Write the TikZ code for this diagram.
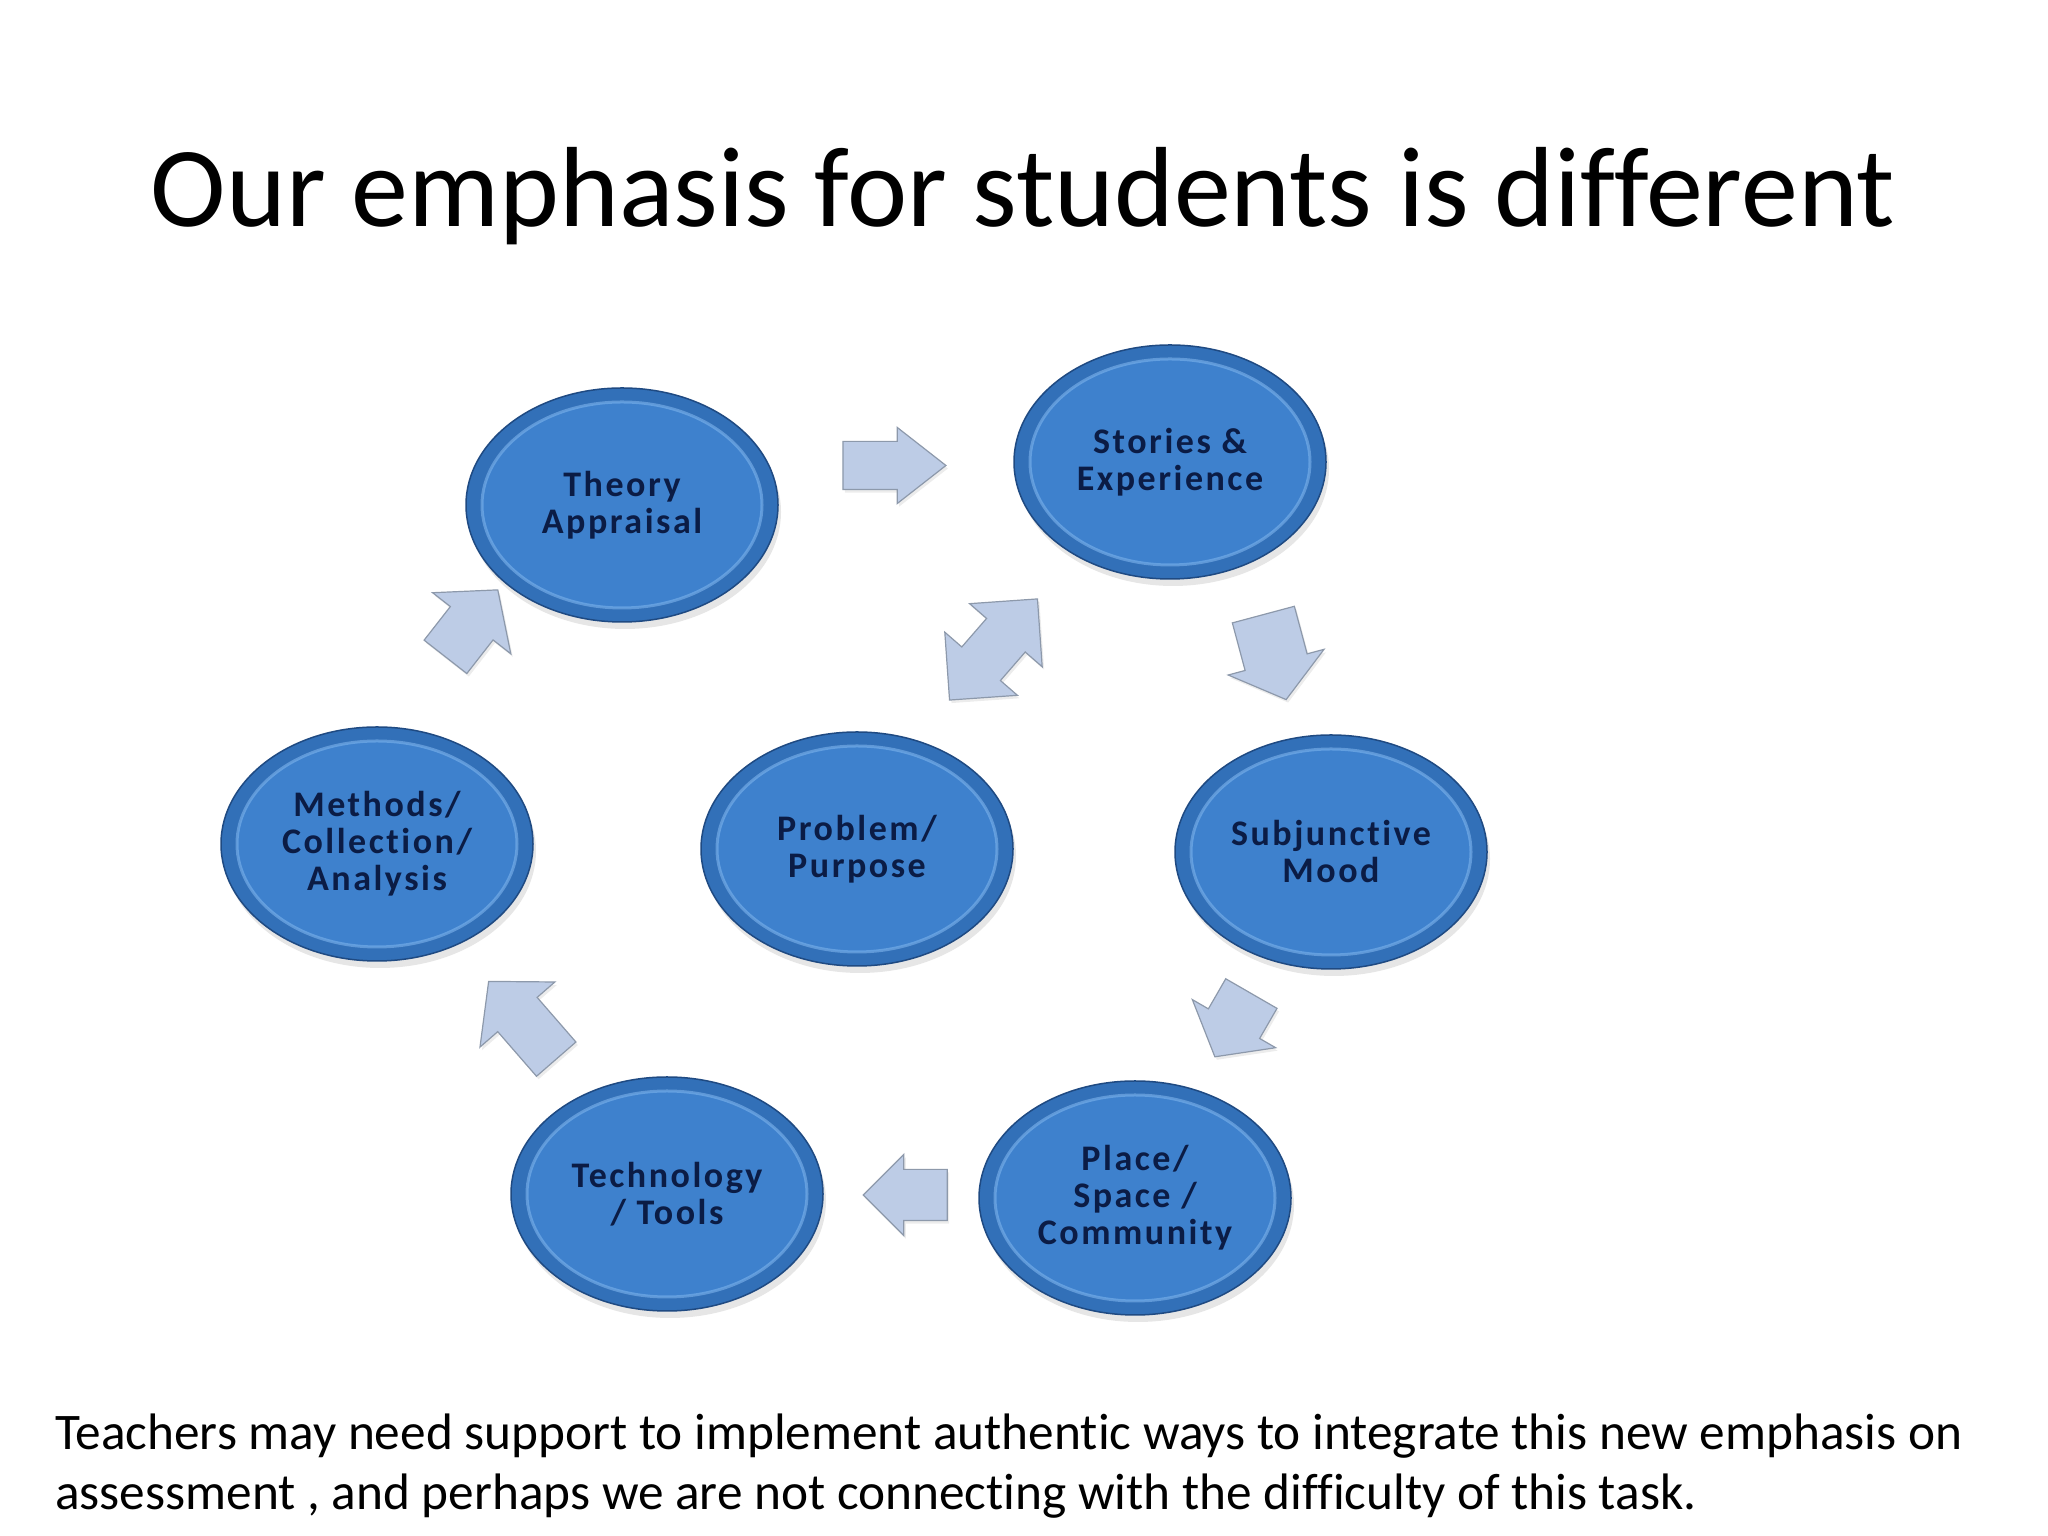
\documentclass[tikz,border=0pt]{standalone}
\usepackage{fontspec}
\setmainfont{Carlito}[Ligatures=NoCommon]
\usetikzlibrary{shapes.geometric, shapes.arrows, calc, shadows}
\definecolor{DiscRim}{HTML}{3270B8}
\definecolor{DiscFace}{HTML}{3E81CD}
\definecolor{DiscEdge}{HTML}{1F4A82}
\definecolor{DiscGlow}{HTML}{7DB3EC}
\definecolor{DiscText}{HTML}{0B1C45}
\definecolor{ArrowFill}{HTML}{BDCCE6}
\definecolor{ArrowEdge}{HTML}{8D99AB}

\tikzset{
  disc/.style={ellipse, draw=DiscEdge, line width=1.5pt, fill=DiscRim,
    minimum width=312pt, minimum height=234pt, inner sep=0pt,
    align=center, text=DiscText,
    font=\fontsize{36}{37}\selectfont\bfseries\addfontfeatures{LetterSpace=7},
    drop shadow={shadow xshift=3pt, shadow yshift=-7pt, opacity=.2},
    path picture={
      \fill[DiscFace] (path picture bounding box.center)
        ellipse [x radius=140pt, y radius=103pt];
      \draw[DiscGlow, line width=3pt, opacity=.6] (path picture bounding box.center)
        ellipse [x radius=140pt, y radius=103pt];
    }},
  flowarrow/.style={single arrow, draw=ArrowEdge, fill=ArrowFill,
    line width=1.2pt, inner sep=0pt, minimum width=0pt,
    drop shadow={shadow xshift=2pt, shadow yshift=-3pt, opacity=.15}},
  twowayarrow/.style={double arrow, draw=ArrowEdge, fill=ArrowFill,
    line width=1.2pt, inner sep=0pt, minimum width=0pt,
    drop shadow={shadow xshift=2pt, shadow yshift=-3pt, opacity=.15}}
}

\begin{document}
\begin{tikzpicture}[x=1pt, y=1pt]
  \useasboundingbox (0,0) rectangle (2048,1536);
  % title
  \node[anchor=base, inner sep=0pt, font=\fontsize{114}{136}\selectfont] (title)
    at (1023,1309) {Our emphasis for students is different};

  % the cycle
  \node[disc] (theory)      at (622,1031) {Theory\\Appraisal};
  \node[disc] (stories)     at (1170,1074) {Stories \&\\Experience};
  \node[disc] (subjunctive) at (1331,684) {Subjunctive\\Mood};
  \node[disc] (problem)     at (857,687) {Problem/\\Purpose};
  \node[disc] (methods)     at (377,692) {Methods/\\Collection/\\Analysis};
  \node[disc] (technology)  at (667,342) {Technology\\/ Tools};
  \node[disc] (place)       at (1135,338) {Place/\\Space /\\Community};

  % block arrows between the discs
  \node[flowarrow, minimum height=103pt, inner ysep=23.5pt,
        single arrow head extend=14pt, single arrow tip angle=76]
    (toStories) at ($(theory)!0.5!(stories)+(-17,18)$) {};
  \node[flowarrow, rotate=-75, minimum height=88pt, inner ysep=31.5pt,
        single arrow head extend=17.5pt, single arrow tip angle=104]
    (toSubjunctive) at ($(stories)!0.5!(subjunctive)+(21,12)$) {};
  \node[twowayarrow, rotate=49, minimum height=134pt, inner ysep=25pt,
        double arrow head extend=22.5pt, double arrow tip angle=90]
    (problemStories) at ($(problem)!0.5!(stories)+(-20,6)$) {};
  \node[flowarrow, rotate=-120, minimum height=73pt, inner ysep=29pt,
        single arrow head extend=18.5pt, single arrow tip angle=103]
    (toPlace) at ($(subjunctive)!0.5!(place)+(6,10)$) {};
  \node[flowarrow, rotate=180, minimum height=84pt, inner ysep=25pt,
        single arrow head extend=15pt, single arrow tip angle=90]
    (toTechnology) at ($(place)!0.5!(technology)+(17,1)$) {};
  \node[flowarrow, rotate=131, minimum height=103pt, inner ysep=25.5pt,
        single arrow head extend=23.5pt, single arrow tip angle=97]
    (toMethods) at ($(technology)!0.5!(methods)+(8,-10)$) {};
  \node[flowarrow, rotate=52, minimum height=85pt, inner ysep=26.5pt,
        single arrow head extend=22.5pt, single arrow tip angle=99]
    (toTheory) at ($(methods)!0.5!(theory)+(-35,42)$) {};

  % note under the diagram
  \node[anchor=base west, align=left, inner sep=0pt,
        font=\fontsize{51.3}{60}\selectfont] (note) at (55,26)
    {Teachers may need support to implement authentic ways to integrate this new emphasis on\\
     assessment , and perhaps we are not connecting with the difficulty of this task.};
\end{tikzpicture}
\end{document}
